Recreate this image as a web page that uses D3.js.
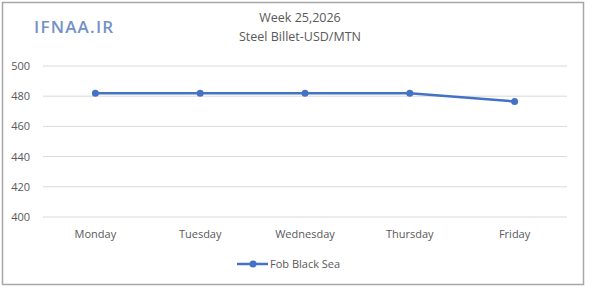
<!DOCTYPE html>
<html>
<head>
<meta charset="utf-8">
<script src="https://cdn.jsdelivr.net/npm/d3@7"></script>
<style>
  body { margin: 0; background: #fff; }
  svg text { font-family: "Open Sans", "Liberation Sans", sans-serif; fill: #595959; }
</style>
</head>
<body>
<svg id="chart"></svg>
<script>
// chart data
const days = ['Monday', 'Tuesday', 'Wednesday', 'Thursday', 'Friday'];
const fobBlackSea = [482, 482, 482, 482, 476.5];
const yTicks = [400, 420, 440, 460, 480, 500];
const seriesName = 'Fob Black Sea';
const titleLines = ['Week 25,2026', 'Steel Billet-USD/MTN'];

const width = 600, height = 291;
const margin = { top: 66, bottom: 74, left: 43, right: 33 };
const innerW = width - margin.left - margin.right;
const innerH = height - margin.top - margin.bottom;
const lineColor = '#4472C4';

const svg = d3.select('#chart')
  .attr('width', width)
  .attr('height', height);

// outer frame
svg.append('rect')
  .attr('x', 2.5).attr('y', 2.5)
  .attr('width', 581).attr('height', 282)
  .attr('fill', '#fff')
  .attr('stroke', '#a6a6a6')
  .attr('stroke-width', 1.5);

// logo text
svg.append('text')
  .attr('x', 34).attr('y', 33)
  .style('font-size', '17px')
  .style('font-weight', '600')
  .style('fill', '#7391c8')
  .style('letter-spacing', '1.2px')
  .text('IFNAA.IR');

// title
svg.selectAll('.title')
  .data(titleLines)
  .join('text')
  .attr('class', 'title')
  .attr('x', 300)
  .attr('y', (d, i) => 22 + i * 19)
  .attr('text-anchor', 'middle')
  .style('font-size', '12.5px')
  .text(d => d);

const chart = svg.append('g')
  .attr('transform', `translate(${margin.left},${margin.top})`);

const xScale = d3.scaleBand()
  .domain(days)
  .range([0, innerW]);

const yScale = d3.scaleLinear()
  .domain([400, 500])
  .range([innerH, 0]);

// gridlines
chart.selectAll('.grid')
  .data(yTicks)
  .join('line')
  .attr('class', 'grid')
  .attr('x1', 0).attr('x2', innerW)
  .attr('y1', d => yScale(d)).attr('y2', d => yScale(d))
  .attr('stroke', '#d9d9d9')
  .attr('stroke-width', 1);

// y axis labels
const yAxis = d3.axisLeft(yScale).tickValues(yTicks).tickSize(0).tickPadding(13);
chart.append('g')
  .attr('class', 'axis y-axis')
  .call(yAxis)
  .call(g => g.select('.domain').remove())
  .selectAll('text')
  .style('font-size', '11px');

// x axis labels
const xAxis = d3.axisBottom(xScale).tickSize(0).tickPadding(13);
chart.append('g')
  .attr('class', 'axis x-axis')
  .attr('transform', `translate(0,${innerH})`)
  .call(xAxis)
  .call(g => g.select('.domain').remove())
  .selectAll('text')
  .style('font-size', '11px');

const pts = days.map((d, i) => ({ day: d, value: fobBlackSea[i] }));

const line = d3.line()
  .x(d => xScale(d.day) + xScale.bandwidth() / 2)
  .y(d => yScale(d.value));

chart.append('path')
  .datum(pts)
  .attr('fill', 'none')
  .attr('stroke', lineColor)
  .attr('stroke-width', 2.5)
  .attr('stroke-linejoin', 'round')
  .attr('d', line);

chart.selectAll('.dot')
  .data(pts)
  .join('circle')
  .attr('class', 'dot')
  .attr('cx', d => xScale(d.day) + xScale.bandwidth() / 2)
  .attr('cy', d => yScale(d.value))
  .attr('r', 3.5)
  .attr('fill', lineColor);

// legend
const legend = svg.append('g').attr('transform', 'translate(237,264)');
legend.append('line')
  .attr('x1', 0).attr('x2', 31)
  .attr('y1', 0).attr('y2', 0)
  .attr('stroke', lineColor)
  .attr('stroke-width', 2.5);
legend.append('circle')
  .attr('cx', 16).attr('cy', 0).attr('r', 3.5)
  .attr('fill', lineColor);
legend.append('text')
  .attr('x', 33).attr('y', 4)
  .style('font-size', '11px')
  .text(seriesName);
</script>
</body>
</html>
